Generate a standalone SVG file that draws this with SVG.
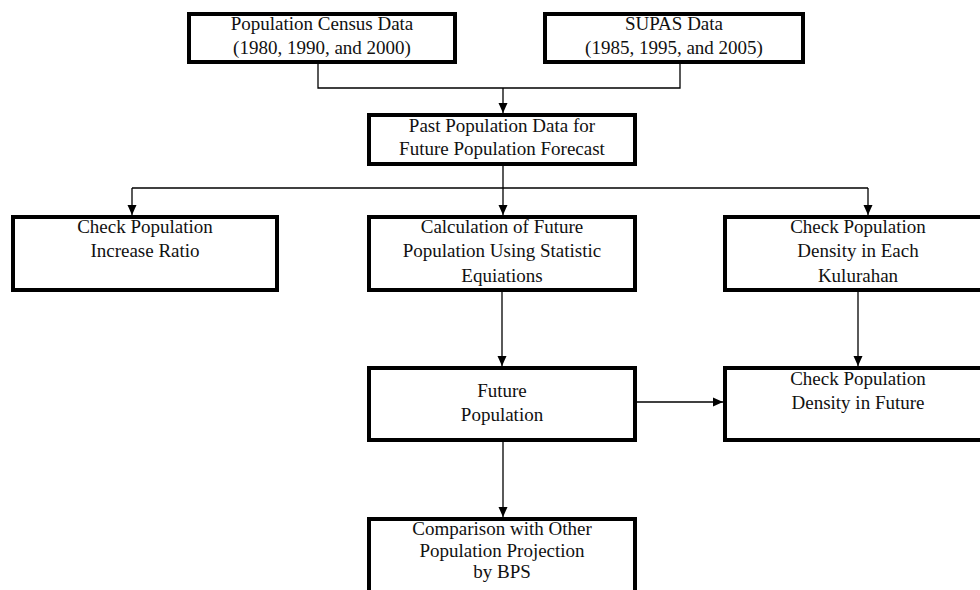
<svg xmlns="http://www.w3.org/2000/svg" width="980" height="590" viewBox="0 0 980 590">
<defs>
<marker id="ah" markerUnits="userSpaceOnUse" markerWidth="10" markerHeight="10" viewBox="0 0 10 10" refX="10" refY="5" orient="auto">
<path d="M0,0.5 L10,5 L0,9.5 Z" fill="#000"/>
</marker>
<style>
.box{fill:#fff;stroke:#000;stroke-width:4}
.t{font-family:"Liberation Serif","Times New Roman",serif;font-size:19px;fill:#111;text-anchor:middle}
.c{fill:none;stroke:#000;stroke-width:1.3}
</style>
</defs>
<rect width="980" height="590" fill="#fff"/>
<g id="connectors">
<path class="c" d="M318,64 V88 H680 V64"/>
<path class="c" d="M503,88 V113" marker-end="url(#ah)"/>
<path class="c" d="M503,166 V215" marker-end="url(#ah)"/>
<path class="c" d="M132,188 H868"/>
<path class="c" d="M132,188 V215" marker-end="url(#ah)"/>
<path class="c" d="M868,188 V215" marker-end="url(#ah)"/>
<path class="c" d="M502,292 V366" marker-end="url(#ah)"/>
<path class="c" d="M858,292 V366" marker-end="url(#ah)"/>
<path class="c" d="M637,402 H723" marker-end="url(#ah)"/>
<path class="c" d="M503,442 V517" marker-end="url(#ah)"/>
</g>
<g id="census">
<rect class="box" x="189" y="14" width="266" height="48"/>
<text class="t" x="322" y="30">Population Census Data</text>
<text class="t" x="322" y="54">(1980, 1990, and 2000)</text>
</g>
<g id="supas">
<rect class="box" x="545" y="14" width="258" height="48"/>
<text class="t" x="674" y="30">SUPAS Data</text>
<text class="t" x="674" y="54">(1985, 1995, and 2005)</text>
</g>
<g id="past">
<rect class="box" x="369" y="115" width="266" height="49"/>
<text class="t" x="502" y="132">Past Population Data for</text>
<text class="t" x="502" y="155">Future Population Forecast</text>
</g>
<g id="increase">
<rect class="box" x="13" y="217" width="264" height="73"/>
<text class="t" x="145" y="233">Check Population</text>
<text class="t" x="145" y="257">Increase Ratio</text>
</g>
<g id="calc">
<rect class="box" x="369" y="217" width="266" height="73"/>
<text class="t" x="502" y="233">Calculation of Future</text>
<text class="t" x="502" y="257">Population Using Statistic</text>
<text class="t" x="502" y="282">Equiations</text>
</g>
<g id="density-each">
<rect class="box" x="725" y="217" width="266" height="73"/>
<text class="t" x="858" y="233">Check Population</text>
<text class="t" x="858" y="257">Density in Each</text>
<text class="t" x="858" y="282">Kulurahan</text>
</g>
<g id="future">
<rect class="box" x="369" y="368" width="266" height="72"/>
<text class="t" x="502" y="397">Future</text>
<text class="t" x="502" y="421">Population</text>
</g>
<g id="density-future">
<rect class="box" x="725" y="368" width="266" height="72"/>
<text class="t" x="858" y="385">Check Population</text>
<text class="t" x="858" y="409">Density in Future</text>
</g>
<g id="comparison">
<rect class="box" x="369" y="519" width="266" height="90"/>
<text class="t" x="502" y="535">Comparison with Other</text>
<text class="t" x="502" y="557">Population Projection</text>
<text class="t" x="502" y="578">by BPS</text>
</g>
</svg>
